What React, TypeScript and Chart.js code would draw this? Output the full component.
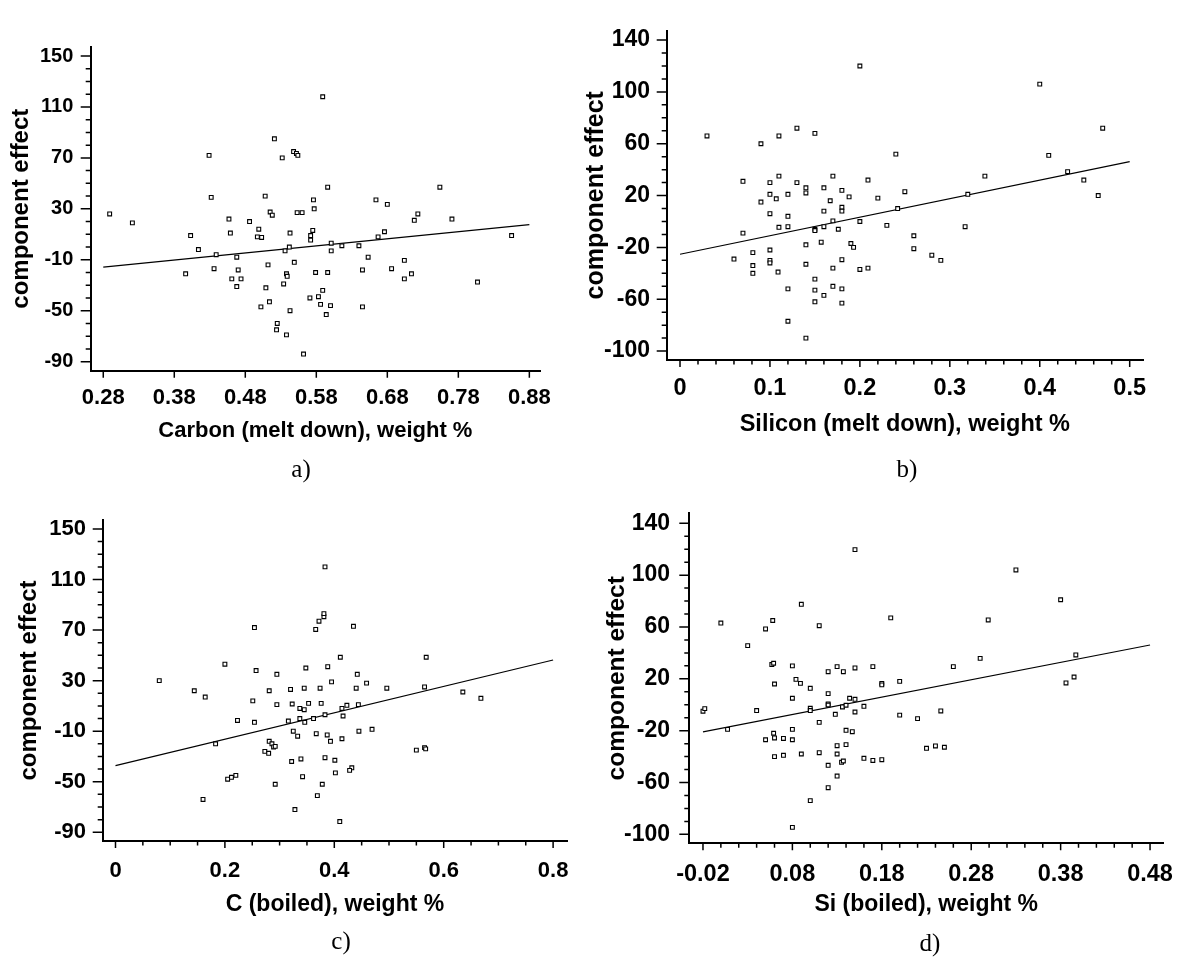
import React, { useEffect, useRef } from 'react';
import { Chart, registerables } from 'chart.js';

Chart.register(...registerables);

// ---------- DATA ----------
// a) Carbon (melt down)
const carbonMeltX = [0.289,0.321,0.429,0.432,0.403,0.414,0.439,0.436,0.396,0.457,0.459,0.468,0.470,0.461,0.474,0.468,0.486,0.499,0.497,0.503,0.508,0.521,0.532,0.515,0.518,0.512,0.509,0.514,0.502,0.525,0.524,0.538,0.543,0.534,0.538,0.539,0.549,0.536,0.542,0.543,0.548,0.552,0.554,0.553,0.560,0.562,0.589,0.596,0.576,0.577,0.575,0.572,0.572,0.601,0.601,0.616,0.640,0.653,0.579,0.596,0.589,0.583,0.571,0.586,0.600,0.594,0.645,0.645,0.664,0.680,0.676,0.667,0.686,0.704,0.704,0.714,0.718,0.723,0.754,0.771,0.807,0.855];
const carbonMeltY = [26,19,72,39,9,-2,-6,-17,-21,22,11,-8,-18,-25,-25,-31,20,14,8,7.5,40,85,70,27.5,25,-14,-32,-43,-47,-60,-65,-69,-50,-29,-21,-23,-12,-3,0,11,75,73.5,72,27,27,-84,118,47,37,30,13,9,5.5,3,-3,1,1,-8,-20,-20,-34,-39,-40,-45,-46,-53,-18,-47,37,33.5,12,8,-17,-10.5,-25,-21,21,26,47,22,-27.5,9];
const carbonMeltFitX = [0.28, 0.88];
const carbonMeltFitY = [-15.7, 17.6];

// b) Silicon (melt down)
const siliconMeltX = [0.030,0.090,0.110,0.130,0.150,0.200,0.070,0.100,0.110,0.130,0.140,0.140,0.100,0.107,0.120,0.090,0.160,0.170,0.180,0.188,0.167,0.209,0.100,0.120,0.160,0.180,0.180,0.170,0.200,0.110,0.120,0.150,0.150,0.160,0.176,0.070,0.140,0.157,0.190,0.193,0.060,0.081,0.100,0.100,0.100,0.081,0.081,0.109,0.140,0.170,0.180,0.200,0.209,0.150,0.120,0.150,0.170,0.180,0.160,0.150,0.180,0.120,0.140,0.240,0.220,0.250,0.242,0.230,0.260,0.260,0.280,0.290,0.317,0.320,0.339,0.400,0.410,0.431,0.449,0.465,0.470];
const siliconMeltY = [66,60,66,72,68,120,31,30,35,30,26,22,21,17.5,21,15,26,35,24,19,16,32,6,4,8,11,8,0.5,0,-4.5,-4,-6,-7,-4,-6,-9,-18,-16,-17,-20,-29,-24,-22,-30,-32,-34,-40,-39,-33,-36,-29.5,-37,-36,-44.5,-52,-53,-50,-52,-57,-62,-63,-77,-90,52,18,23,10,-3,-11,-21,-26,-30,-4,21,35,106,51,38.5,32,20,72];
const siliconMeltFitX = [0, 0.5];
const siliconMeltFitY = [-25.3, 46.2];

// c) C (boiled)
const carbonBoiledX = [0.080,0.144,0.164,0.183,0.160,0.200,0.205,0.212,0.220,0.223,0.254,0.257,0.251,0.254,0.295,0.281,0.295,0.281,0.286,0.289,0.292,0.273,0.280,0.292,0.320,0.323,0.316,0.325,0.333,0.322,0.328,0.339,0.342,0.337,0.346,0.337,0.345,0.353,0.345,0.348,0.366,0.362,0.367,0.369,0.372,0.381,0.381,0.383,0.435,0.411,0.388,0.442,0.395,0.459,0.374,0.440,0.496,0.565,0.568,0.635,0.668,0.376,0.423,0.444,0.414,0.416,0.383,0.387,0.393,0.414,0.445,0.469,0.383,0.401,0.402,0.378,0.432,0.428,0.410,0.550,0.565,0.567];
const carbonBoiledY = [30,22,17,-20,-64,43,-48,-46.5,-45,-1.5,72,38,14,-3,35,22,11,-18,-20,-22.5,-22,-26,-27.5,-52,23,11.5,-2,-10,-14,-34,-72,-32,-46,0,-3,8,7,12,24,40,70.5,0,-12,-61,77,80.6,83,120,73,48.5,41,35,29,28,24,24,24,25,48.5,21,16,12,10.5,11,8,2,3,-13,-18,-16,-10,-8.5,-31,-33,-43,-52,-39,-41,-81.5,-25,-23,-24];
const carbonBoiledFitX = [0, 0.8];
const carbonBoiledFitY = [-37.3, 46.3];

// d) Si (boiled)
const siliconBoiledX = [-0.020,-0.018,0.000,0.0075,0.030,0.040,0.050,0.058,0.057,0.059,0.060,0.059,0.060,0.050,0.060,0.070,0.070,0.080,0.080,0.080,0.080,0.084,0.089,0.090,0.090,0.080,0.100,0.100,0.100,0.100,0.110,0.110,0.110,0.120,0.120,0.120,0.120,0.120,0.120,0.130,0.128,0.130,0.130,0.130,0.137,0.136,0.140,0.135,0.137,0.140,0.140,0.144,0.147,0.150,0.150,0.150,0.150,0.160,0.160,0.170,0.170,0.180,0.180,0.180,0.190,0.200,0.200,0.220,0.246,0.230,0.240,0.250,0.260,0.290,0.299,0.330,0.380,0.397,0.386,0.395];
const siliconBoiledY = [-5,-3,63,-19,45.6,-4.5,58.5,65,31,32,16,-22,-25.6,-27,-40,-39,-26,-27,-19,30,5,19.6,16.5,77.5,-38,-94.6,12.7,-2.7,-4.5,-74,61,-13.6,-37,25.5,8.6,0.6,-0.2,-46.7,-64,29.4,-7.4,-31.6,-38,-55,25.5,-1.7,-0.4,-44.4,-43.4,-19.7,-30.8,5,-20.8,119.7,28.4,4.2,-5.6,-1.2,-41.3,29.4,-43,16.5,15.3,-42.4,67,18,-8,-10.7,-4.8,-33.6,-31.8,-32.8,29.4,35.8,65.4,104,81,38.4,16.8,21.4];
const siliconBoiledFitX = [-0.02, 0.48];
const siliconBoiledFitY = [-21, 46.1];

// tick values and labels
const yTicksA = [-90, -50, -10, 30, 70, 110, 150];
const yLabelsA = ['-90', '-50', '-10', '30', '70', '110', '150'];
const yTicksB = [-100, -60, -20, 20, 60, 100, 140];
const yLabelsB = ['-100', '-60', '-20', '20', '60', '100', '140'];
const xTicksA = [0.28, 0.38, 0.48, 0.58, 0.68, 0.78, 0.88];
const xLabelsA = ['0.28', '0.38', '0.48', '0.58', '0.68', '0.78', '0.88'];
const xTicksB = [0, 0.1, 0.2, 0.3, 0.4, 0.5];
const xLabelsB = ['0', '0.1', '0.2', '0.3', '0.4', '0.5'];
const xTicksC = [0, 0.2, 0.4, 0.6, 0.8];
const xLabelsC = ['0', '0.2', '0.4', '0.6', '0.8'];
const xTicksD = [-0.02, 0.08, 0.18, 0.28, 0.38, 0.48];
const xLabelsD = ['-0.02', '0.08', '0.18', '0.28', '0.38', '0.48'];

const steps = (from: number, to: number, step: number) => {
  const out: number[] = [];
  const n = Math.round((to - from) / step);
  for (let i = 0; i <= n; i++) out.push(+(from + i * step).toFixed(4));
  return out;
};

// ---------- LAYOUT ----------
type Panel = {
  xs: number[]; ys: number[]; fx: number[]; fy: number[];
  canvas: { left: number; top: number; w: number; h: number };
  area: { l: number; t: number; r: number; b: number };
  xMin: number; xMax: number; yMin: number; yMax: number;
  xTicks: number[]; xLabels: string[]; xMinor: number[];
  yTicks: number[]; yLabels: string[]; yMinor: number[];
  xTitle: string; yTitle: string;
  xTickSize: number; yTickSize: number; xTitleSize: number; yTitleSize: number;
  xTitleY: number; yTitleX: number; yLabelRight: number; xLabelCenter: number;
};

const panels: Panel[] = [
  {
    xs: carbonMeltX, ys: carbonMeltY, fx: carbonMeltFitX, fy: carbonMeltFitY,
    canvas: { left: 0, top: 0, w: 575, h: 450 },
    area: { l: 90.7, t: 46.7, r: 540, b: 370.7 },
    xMin: 0.2623, xMax: 0.895, yMin: -97.1, yMax: 157.3,
    xTicks: xTicksA, xLabels: xLabelsA, xMinor: [],
    yTicks: yTicksA, yLabels: yLabelsA, yMinor: steps(-90, 150, 10),
    xTitle: 'Carbon (melt down), weight %', yTitle: 'component effect',
    xTickSize: 22, yTickSize: 20, xTitleSize: 22, yTitleSize: 24,
    xTitleY: 431, yTitleX: 21, yLabelRight: 73.3, xLabelCenter: 398,
  },
  {
    xs: siliconMeltX, ys: siliconMeltY, fx: siliconMeltFitX, fy: siliconMeltFitY,
    canvas: { left: 570, top: 0, w: 621, h: 450 },
    area: { l: 96.7, t: 15, r: 573, b: 360 },
    xMin: -0.0148, xMax: 0.5148, yMin: -106.9, yMax: 147.4,
    xTicks: xTicksB, xLabels: xLabelsB, xMinor: steps(0, 0.5, 0.02),
    yTicks: yTicksB, yLabels: yLabelsB, yMinor: steps(-100, 140, 10),
    xTitle: 'Silicon (melt down), weight %', yTitle: 'component effect',
    xTickSize: 23.5, yTickSize: 23, xTitleSize: 23.5, yTitleSize: 25,
    xTitleY: 425, yTitleX: 26, yLabelRight: 80, xLabelCenter: 389,
  },
  {
    xs: carbonBoiledX, ys: carbonBoiledY, fx: carbonBoiledFitX, fy: carbonBoiledFitY,
    canvas: { left: 0, top: 470, w: 585, h: 470 },
    area: { l: 102.7, t: 50, r: 575, b: 371 },
    xMin: -0.0234, xMax: 0.8257, yMin: -96.9, yMax: 157.1,
    xTicks: xTicksC, xLabels: xLabelsC, xMinor: steps(0, 0.8, 0.05),
    yTicks: yTicksA, yLabels: yLabelsA, yMinor: steps(-90, 150, 10),
    xTitle: 'C (boiled), weight %', yTitle: 'component effect',
    xTickSize: 22, yTickSize: 22, xTitleSize: 23, yTitleSize: 24,
    xTitleY: 435, yTitleX: 29, yLabelRight: 86, xLabelCenter: 400.5,
  },
  {
    xs: siliconBoiledX, ys: siliconBoiledY, fx: siliconBoiledFitX, fy: siliconBoiledFitY,
    canvas: { left: 585, top: 470, w: 606, h: 470 },
    area: { l: 104.3, t: 43.3, r: 588.3, b: 373.3 },
    xMin: -0.0353, xMax: 0.4946, yMin: -106.9, yMax: 147.7,
    xTicks: xTicksD, xLabels: xLabelsD, xMinor: steps(-0.02, 0.48, 0.02),
    yTicks: yTicksB, yLabels: yLabelsB, yMinor: steps(-100, 140, 10),
    xTitle: 'Si (boiled), weight %', yTitle: 'component effect',
    xTickSize: 23.5, yTickSize: 23, xTitleSize: 23, yTitleSize: 24.5,
    xTitleY: 435, yTitleX: 32, yLabelRight: 85, xLabelCenter: 405,
  },
];

const captions = [
  { text: 'a)', x: 301, y: 468 },
  { text: 'b)', x: 907, y: 468 },
  { text: 'c)', x: 341, y: 940 },
  { text: 'd)', x: 930, y: 942 },
];

const FONT = "'Liberation Sans', Arial, sans-serif";

function ScatterPanel({ p }: { p: Panel }) {
  const ref = useRef<HTMLCanvasElement | null>(null);
  useEffect(() => {
    if (!ref.current) return;
    const { w, h } = p.canvas;
    const a = p.area;
    const tickPlugin = {
      id: 'customTicks',
      afterDraw(chart: any) {
        const { ctx, chartArea } = chart;
        const xs = chart.scales.x;
        const ys = chart.scales.y;
        ctx.save();
        ctx.strokeStyle = '#000';
        ctx.lineWidth = 1.5;
        ctx.beginPath();
        for (const v of p.xMinor) {
          const px = xs.getPixelForValue(v);
          ctx.moveTo(px, chartArea.bottom);
          ctx.lineTo(px, chartArea.bottom + 4.5);
        }
        for (const v of p.xTicks) {
          const px = xs.getPixelForValue(v);
          ctx.moveTo(px, chartArea.bottom);
          ctx.lineTo(px, chartArea.bottom + 7);
        }
        for (const v of p.yMinor) {
          const py = ys.getPixelForValue(v);
          ctx.moveTo(chartArea.left - 5, py);
          ctx.lineTo(chartArea.left, py);
        }
        for (const v of p.yTicks) {
          const py = ys.getPixelForValue(v);
          ctx.moveTo(chartArea.left - 10, py);
          ctx.lineTo(chartArea.left, py);
        }
        ctx.stroke();
        ctx.restore();
      },
    };
    const pts = p.xs.map((x, i) => ({ x, y: p.ys[i] }));
    const fit = p.fx.map((x, i) => ({ x, y: p.fy[i] }));
    const chart = new Chart(ref.current, {
      type: 'scatter',
      data: {
        datasets: [
          {
            type: 'scatter',
            data: pts,
            pointStyle: 'rect',
            pointRadius: 2.7,
            pointBorderWidth: 1.1,
            borderColor: '#000',
            backgroundColor: '#fff',
          } as any,
          {
            type: 'line',
            data: fit,
            borderColor: '#000',
            borderWidth: 1.2,
            pointRadius: 0,
            fill: false,
          } as any,
        ],
      },
      options: {
        animation: false,
        responsive: false,
        events: [],
        layout: { padding: { left: 0, top: a.t, right: w - a.r, bottom: 0 } },
        plugins: { legend: { display: false }, tooltip: { enabled: false } },
        scales: {
          x: {
            type: 'linear',
            position: 'bottom',
            min: p.xMin,
            max: p.xMax,
            grid: { display: false, drawTicks: false },
            border: { display: true, color: '#000', width: 2 },
            ticks: {
              color: '#000',
              font: { family: FONT, size: p.xTickSize, weight: 'bold' },
              padding: p.xLabelCenter - a.b - (p.xTickSize * 1.2) / 2,
              maxRotation: 0,
              autoSkip: false,
              callback: (_v: any, i: number) => p.xLabels[i],
            },
            title: {
              display: true,
              text: p.xTitle,
              color: '#000',
              font: { family: FONT, size: p.xTitleSize, weight: 'bold' },
              padding: { top: 0, bottom: h - p.xTitleY - (p.xTitleSize * 1.2) / 2 },
            },
            afterBuildTicks: (s: any) => {
              s.ticks = p.xTicks.map((v) => ({ value: v }));
            },
            afterFit: (s: any) => {
              s.height = h - a.b;
            },
          },
          y: {
            type: 'linear',
            position: 'left',
            min: p.yMin,
            max: p.yMax,
            grid: { display: false, drawTicks: false },
            border: { display: true, color: '#000', width: 2 },
            ticks: {
              color: '#000',
              font: { family: FONT, size: p.yTickSize, weight: 'bold' },
              padding: a.l - p.yLabelRight,
              autoSkip: false,
              callback: (_v: any, i: number) => p.yLabels[i],
            },
            title: {
              display: true,
              text: p.yTitle,
              color: '#000',
              font: { family: FONT, size: p.yTitleSize, weight: 'bold' },
              padding: { top: p.yTitleX - (p.yTitleSize * 1.2) / 2, bottom: 0 },
            },
            afterBuildTicks: (s: any) => {
              s.ticks = p.yTicks.map((v) => ({ value: v }));
            },
            afterFit: (s: any) => {
              s.width = a.l;
            },
          },
        },
      } as any,
      plugins: [tickPlugin],
    });
    return () => chart.destroy();
  }, [p]);
  return (
    <canvas
      ref={ref}
      width={p.canvas.w}
      height={p.canvas.h}
      style={{
        position: 'absolute',
        left: p.canvas.left,
        top: p.canvas.top,
        width: p.canvas.w,
        height: p.canvas.h,
      }}
    />
  );
}

export default function App() {
  return (
    <div
      style={{
        position: 'absolute',
        left: 0,
        top: 0,
        width: 1191,
        height: 960,
        background: '#fff',
        overflow: 'hidden',
      }}
    >
      {panels.map((p, i) => (
        <ScatterPanel key={i} p={p} />
      ))}
      {captions.map((c) => (
        <div
          key={c.text}
          style={{
            position: 'absolute',
            left: c.x,
            top: c.y,
            transform: 'translate(-50%, -50%)',
            fontFamily: "'Liberation Serif', 'Times New Roman', serif",
            fontSize: 25,
            lineHeight: 1,
            color: '#000',
          }}
        >
          {c.text}
        </div>
      ))}
    </div>
  );
}
